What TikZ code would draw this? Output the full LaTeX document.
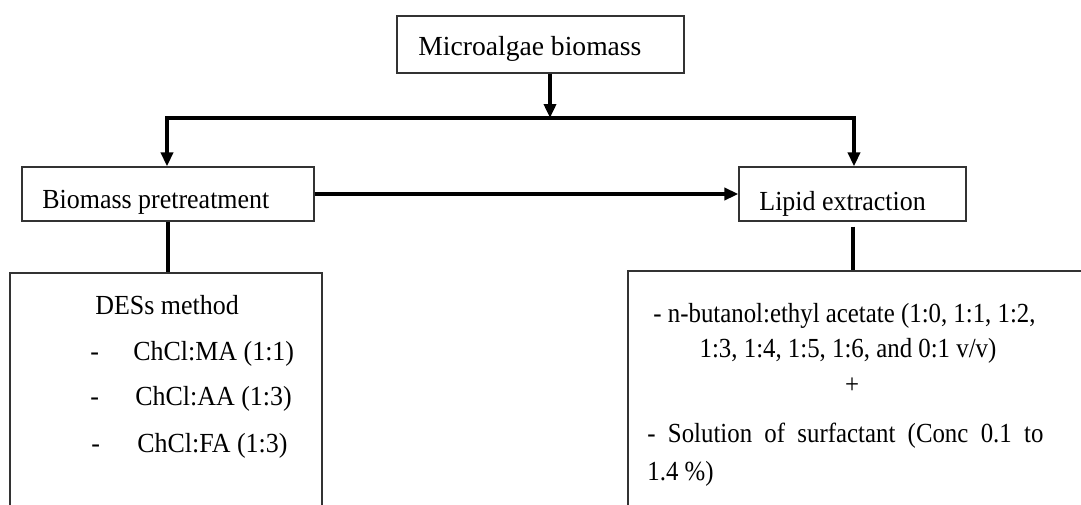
\documentclass[tikz,border=0pt]{standalone}
\usepackage{fontspec}
\setmainfont{Liberation Serif}
\newfontfamily\boxfont[FakeStretch=0.94]{Liberation Serif}
\newfontfamily\listfont[FakeStretch=0.9]{Liberation Serif}
\usetikzlibrary{arrows.meta,fit}
\tikzset{
  box/.style={draw=black!80, line width=0.6pt, inner sep=0pt},
  link/.style={line width=2pt},
  arr/.style={link, -{Triangle[width=6pt,length=7pt]}},
  txt/.style={anchor=base west, inner sep=0pt, font=\boxfont\fontsize{13.8}{16}\selectfont},
  smalltxt/.style={txt, font=\listfont\fontsize{13.8}{16}\selectfont},
}
\begin{document}
\begin{tikzpicture}[x=0.5pt,y=-0.5pt]
\path[use as bounding box, clip] (0,0) rectangle (1081,504);
% boxes
\node[box, fit={(397,16) (684,73)}] (micro) {};
\node[box, fit={(22,167) (314,221)}] (pre) {};
\node[box, fit={(739,167) (966,221)}] (lipid) {};
\node[box, fit={(10,273) (322,530)}] (des) {}; %open at bottom
\node[box, fit={(628,271) (1110,530)}] (solv) {}; %cut at right
% texts
\node[txt, font=\rmfamily\fontsize{13.8}{16}\selectfont] (microtxt) at (418,55) {Microalgae biomass};
\node[txt] (pretxt) at (42,208) {Biomass pretreatment};
\node[txt] (lipidtxt) at (759,210) {Lipid extraction};
\node[txt] (destxt) at (95,314) {DESs method};
\node[txt] (dash1) at (90,360) {-}; \node[txt] (des1) at (133,360) {ChCl:MA (1:1)};
\node[txt] (dash2) at (90,405) {-}; \node[txt] (des2) at (135,405) {ChCl:AA (1:3)};
\node[txt] (dash3) at (91,452) {-}; \node[txt] (des3) at (137,452) {ChCl:FA (1:3)};
\node[smalltxt] (solv1) at (653,322) {- n-butanol:ethyl acetate (1:0, 1:1, 1:2,};
\node[smalltxt, anchor=base] (solv2) at (848,357) {1:3, 1:4, 1:5, 1:6, and 0:1 v/v)};
\node[smalltxt, anchor=base] (plus) at (852,393) {+};
\node[smalltxt] (solv3) at (647,442) {\makebox[198pt][s]{- Solution of surfactant (Conc 0.1 to}};
\node[smalltxt] (solv4) at (647,480) {1.4 \%)};
% connectors
\coordinate (split) at (550,118);
\coordinate (splitL) at (167,118);
\coordinate (splitR) at (854,118);
\draw[arr] (micro.south -| split) -- (split);
\draw[arr] (split) -- (splitL) -- (splitL |- pre.north);
\draw[arr] (split) -- (splitR) -- (splitR |- lipid.north);
\draw[arr] (pre.east) -- (pre.east -| lipid.west);
\draw[link] (pre.south) -- (pre.south |- des.north);
\draw[link] (lipid.south) ++(0,5) -- (lipid.south |- solv.north);
\end{tikzpicture}
\end{document}
